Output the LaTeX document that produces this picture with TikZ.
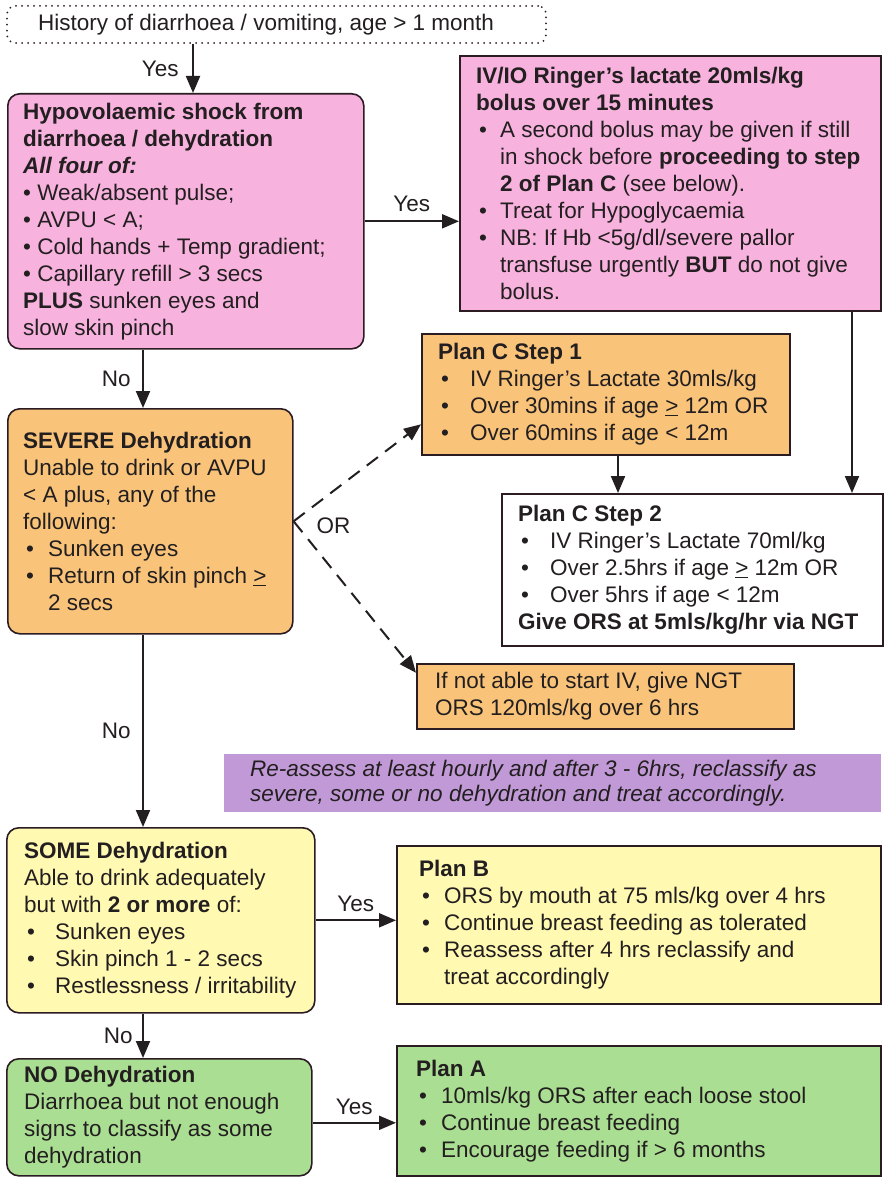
\documentclass[tikz,border=0pt]{standalone}
\usepackage{fontspec}
\setmainfont{Liberation Sans}
\usetikzlibrary{arrows.meta}

\definecolor{ink}{HTML}{231F20}
\definecolor{edge}{HTML}{2B1B22}
\definecolor{pinkbox}{HTML}{F7B2DE}
\definecolor{orangebox}{HTML}{F9C47A}
\definecolor{yellowbox}{HTML}{FFF9B2}
\definecolor{greenbox}{HTML}{AADE92}
\definecolor{purplebox}{HTML}{C099D6}

% bullet and hanging indent for list lines
\newcommand{\bul}[1][24pt]{\makebox[#1][l]{\hspace{3pt}\textbullet}}
\newcommand{\cont}[1][24pt]{\hspace*{#1}}

\begin{document}
\begin{tikzpicture}[x=1pt, y=-1pt, font=\fontsize{22.5}{27}\selectfont, text=ink,
    box/.style = {draw=edge, line width=1.6pt, anchor=north west, inner sep=0pt},
    rbox/.style = {box, rounded corners=12pt},
    txt/.style = {anchor=west, align=left, inner xsep=17pt, inner ysep=0pt, text=ink},
    arr/.style = {-{Triangle[length=17pt,width=14pt]}, line width=2pt, draw=ink},
    dsh/.style = {arr, dash pattern=on 14pt off 9pt}]

    \fill[white] (0,0) rectangle (887,1182);
    \useasboundingbox (0,0) rectangle (887,1182);

    \node[box, rounded corners=8pt, line width=2pt, line cap=round, dash pattern=on 0pt off 6pt,
        minimum width=539pt, minimum height=37pt,
        label={[txt, inner xsep=32pt]west:{History of diarrhoea / vomiting, age > 1 month}}] (Hist) at (6,5) {};

    \node[rbox, fill=pinkbox, minimum width=356pt, minimum height=255pt,
        label={[txt, inner xsep=16pt]west:{{\bfseries Hypovolaemic shock from}\\
        {\bfseries diarrhoea / dehydration}\\
        {\bfseries\itshape All four of:}\\
        • Weak/absent pulse;\\
        • AVPU < A;\\
        • Cold hands + Temp gradient;\\
        • Capillary refill > 3 secs\\
        {\bfseries PLUS} sunken eyes and\\
        slow skin pinch}}] (Shock) at (7,93) {};

    \node[box, fill=pinkbox, minimum width=421pt, minimum height=255pt,
        label={[txt]west:{{\bfseries IV/IO Ringer’s lactate 20mls/kg}\\
        {\bfseries bolus over 15 minutes}\\
        \bul A second bolus may be given if still\\
        \cont in shock before {\bfseries proceeding to step}\\
        \cont {\bfseries 2 of Plan C} (see below).\\
        \bul Treat for Hypoglycaemia\\
        \bul NB: If Hb <5g/dl/severe pallor\\
        \cont transfuse urgently {\bfseries BUT} do not give\\
        \cont bolus.}}] (Bolus) at (459,55) {};

    \node[rbox, fill=orangebox, minimum width=285pt, minimum height=225pt,
        label={[txt, inner xsep=16pt]west:{{\bfseries SEVERE Dehydration}\\
        Unable to drink or AVPU\\
        < A plus, any of the\\
        following:\\
        \bul[25pt]Sunken eyes\\
        \bul[25pt]Return of skin pinch \underline{>}\\
        \cont[25pt]2 secs}}] (Severe) at (7,408) {};

    \node[box, fill=orangebox, minimum width=368pt, minimum height=121pt,
        label={[txt]west:{{\bfseries Plan C Step 1}\\
        \bul[32pt]IV Ringer’s Lactate 30mls/kg\\
        \bul[32pt]Over 30mins if age \underline{>} 12m OR\\
        \bul[32pt]Over 60mins if age < 12m}}] (C1) at (421,333) {};

    \node[box, fill=white, minimum width=381pt, minimum height=152pt,
        label={[txt]west:{{\bfseries Plan C Step 2}\\
        \bul[32pt]IV Ringer’s Lactate 70ml/kg\\
        \bul[32pt]Over 2.5hrs if age \underline{>} 12m OR\\
        \bul[32pt]Over 5hrs if age < 12m\\
        {\bfseries Give ORS at 5mls/kg/hr via NGT}}}] (C2) at (501,493) {};

    \node[box, fill=orangebox, minimum width=377pt, minimum height=65pt,
        label={[txt, inner xsep=19pt]west:{If not able to start IV, give NGT\\
        ORS 120mls/kg over 6 hrs}}] (NGT) at (416,663) {};

    \node[box, draw=none, fill=purplebox, minimum width=657pt, minimum height=58pt,
        label={[txt, inner xsep=27pt, font=\fontsize{22.5}{25}\selectfont\itshape]west:{Re-assess at least hourly and after 3 - 6hrs, reclassify as\\
        severe, some or no dehydration and treat accordingly.}}] (Reass) at (223,753) {};

    \node[rbox, fill=yellowbox, minimum width=308pt, minimum height=185pt,
        label={[txt, inner xsep=18pt]west:{{\bfseries SOME Dehydration}\\
        Able to drink adequately\\
        but with {\bfseries 2 or more} of:\\
        \bul[31pt]Sunken eyes\\
        \bul[31pt]Skin pinch 1 - 2 secs\\
        \bul[31pt]Restlessness / irritability}}] (Some) at (6,827) {};

    \node[box, fill=yellowbox, minimum width=484pt, minimum height=158pt,
        label={[txt, inner xsep=23pt]west:{{\bfseries Plan B}\\
        \bul[25pt]ORS by mouth at 75 mls/kg over 4 hrs\\
        \bul[25pt]Continue breast feeding as tolerated\\
        \bul[25pt]Reassess after 4 hrs reclassify and\\
        \cont[25pt]treat accordingly}}] (PB) at (396,845) {};

    \node[rbox, fill=greenbox, minimum width=305pt, minimum height=117pt,
        label={[txt, inner xsep=18pt]west:{{\bfseries NO Dehydration}\\
        Diarrhoea but not enough\\
        signs to classify as some\\
        dehydration}}] (NoD) at (6,1058) {};

    \node[box, fill=greenbox, minimum width=484pt, minimum height=130pt,
        label={[txt, inner xsep=20pt]west:{{\bfseries Plan A}\\
        \bul[25pt]10mls/kg ORS after each loose stool\\
        \bul[25pt]Continue breast feeding\\
        \bul[25pt]Encourage feeding if > 6 months}}] (PA) at (396,1045) {};

    % columns of the vertical connectors
    \coordinate (Topx) at (193,0);
    \coordinate (Lft) at (143,0);
    \coordinate (C1x) at (618,0);
    \coordinate (Bx) at (852,0);

    \draw[arr] (Topx |- Hist.south) -- node[left=10pt] {Yes} (Topx |- Shock.north);
    \draw[arr] (Shock.east) -- node[above=5pt] {Yes} (Shock.east -| Bolus.west);
    \draw[arr] (Lft |- Shock.south) -- node[left=8pt] {No} (Lft |- Severe.north);
    \draw[dsh] (Severe.east) -- ([yshift=-30pt]C1.west);
    \draw[dsh] (Severe.east) -- ([yshift=23.5pt]NGT.west);
    \node (OR) at ([xshift=40pt,yshift=-4pt]Severe.east) {OR};
    \draw[arr] (C1x |- C1.south) -- (C1x |- C2.north);
    \draw[arr] (Bx |- Bolus.south) -- (Bx |- C2.north);
    \draw[arr] (Lft |- Severe.south) -- node[left=8pt] {No} (Lft |- Some.north);
    \draw[arr] (Some.east) -- node[above=4pt] {Yes} (Some.east -| PB.west);
    \draw[arr] (Lft |- Some.south) -- node[left=6pt] {No} (Lft |- NoD.north);
    \draw[arr] ([yshift=-5.5pt]NoD.east) -- node[above=4pt] {Yes} ([yshift=-5.5pt]NoD.east -| PA.west);
\end{tikzpicture}
\end{document}
